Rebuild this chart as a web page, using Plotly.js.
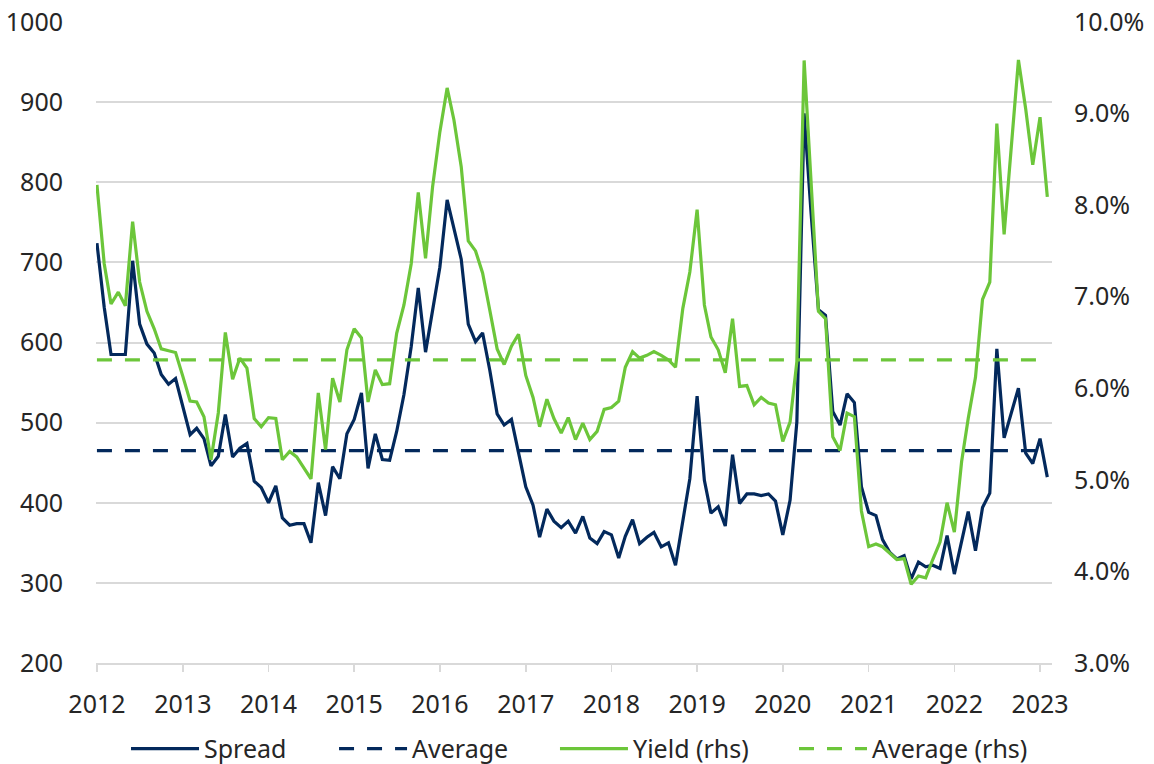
<!DOCTYPE html>
<html>
<head>
<meta charset="utf-8">
<script src="https://cdn.plot.ly/plotly-3.0.1.min.js"></script>
<style>
  html, body { margin: 0; padding: 0; background: #ffffff; }
  #chart { width: 1154px; height: 764px; }
</style>
</head>
<body>
<div id="chart"></div>
<script>
// Monthly observations starting January 2012
const startYear = 2012;
const spread = [724,644,585,585,585,702,623,598,587,560,
  548,555,521,485,493,480,446,458,510,457,
  468,474,427,419,400,421,381,372,374,374,
  350,425,384,445,430,486,504,537,443,486,
  454,453,489,535,595,668,588,642,694,778,
  741,704,623,601,612,565,511,497,504,464,
  420,397,357,392,377,369,377,362,383,356,
  349,364,360,331,358,379,349,357,363,345,
  350,322,378,430,533,428,387,395,371,460,
  399,411,411,409,411,402,360,403,501,886,
  760,641,634,514,497,536,525,420,388,384,
  354,338,330,334,305,326,320,322,318,359,
  311,354,389,340,394,412,592,481,512,543,
  462,449,480,432];
const yieldRhs = [8.22,7.36,6.92,7.05,6.90,7.82,7.16,6.84,6.65,6.43,
  6.41,6.39,6.13,5.86,5.85,5.69,5.22,5.73,6.61,6.10,
  6.33,6.22,5.67,5.58,5.68,5.67,5.22,5.31,5.25,5.13,
  5.01,5.95,5.33,6.11,5.85,6.42,6.65,6.55,5.85,6.20,
  6.04,6.05,6.60,6.91,7.36,8.14,7.42,8.20,8.80,9.28,
  8.93,8.42,7.61,7.50,7.26,6.85,6.43,6.26,6.46,6.59,
  6.14,5.90,5.58,5.88,5.67,5.51,5.68,5.44,5.62,5.44,
  5.53,5.77,5.79,5.86,6.23,6.40,6.33,6.36,6.40,6.36,
  6.31,6.23,6.87,7.27,7.95,6.91,6.56,6.42,6.17,6.76,
  6.02,6.03,5.82,5.90,5.84,5.82,5.42,5.63,6.29,9.58,
  8.20,6.84,6.76,5.47,5.32,5.73,5.69,4.66,4.27,4.30,
  4.27,4.20,4.13,4.14,3.86,3.95,3.93,4.13,4.32,4.75,
  4.43,5.20,5.67,6.12,6.97,7.16,8.89,7.68,8.63,9.585,
  9.05,8.44,8.96,8.09];
const avgSpread = 465;
const avgYield = 6.31;
const yearLabels = ['2012','2013','2014','2015','2016','2017','2018','2019','2020','2021','2022','2023'];
const seriesNames = ['Spread','Average','Yield (rhs)','Average (rhs)'];

const navy = '#03295c';
const green = '#6cc63a';

function monthDate(i) {
  const y = startYear + Math.floor(i / 12);
  const m = (i % 12) + 1;
  return y + '-' + (m < 10 ? '0' + m : m) + '-01';
}
const dates = spread.map((_, i) => monthDate(i));
const avgX = [dates[0], dates[dates.length - 1]];
const yearTicks = yearLabels.map(y => y + '-01-01');

const font = { family: 'Noto Sans, Open Sans, sans-serif', size: 25, color: '#262626' };

const traces = [
  { x: dates, y: spread, name: seriesNames[0], type: 'scatter', mode: 'lines',
    line: { color: navy, width: 3.2 }, yaxis: 'y', legend: 'legend' },
  { x: avgX, y: [avgSpread, avgSpread], name: seriesNames[1], type: 'scatter', mode: 'lines',
    line: { color: navy, width: 3.2, dash: '15px,13px' }, yaxis: 'y', legend: 'legend2' },
  { x: dates, y: yieldRhs, name: seriesNames[2], type: 'scatter', mode: 'lines',
    line: { color: green, width: 3.2 }, yaxis: 'y2', legend: 'legend3' },
  { x: avgX, y: [avgYield, avgYield], name: seriesNames[3], type: 'scatter', mode: 'lines',
    line: { color: green, width: 3.2, dash: '15px,13px' }, yaxis: 'y2', legend: 'legend4' }
];

function legendAt(xFrac) {
  return {
    orientation: 'h', x: xFrac, xanchor: 'left', y: -0.098, yanchor: 'top',
    font: font, itemwidth: 68, bgcolor: 'rgba(0,0,0,0)'
  };
}

const layout = {
  width: 1154, height: 764,
  margin: { l: 96, r: 102, t: 22, b: 101, autoexpand: false },
  paper_bgcolor: '#ffffff', plot_bgcolor: '#ffffff',
  font: font,
  showlegend: true,
  legend: legendAt(0.0314),
  legend2: legendAt(0.2490),
  legend3: legendAt(0.4801),
  legend4: legendAt(0.7301),
  xaxis: {
    type: 'date', automargin: false,
    range: ['2011-12-28', '2023-02-21'],
    tickvals: yearTicks, ticktext: yearLabels,
    showgrid: false, zeroline: false,
    showline: true, linecolor: '#d9d9d9', linewidth: 2,
    ticks: 'outside', ticklen: 7, tickcolor: '#d9d9d9', tickwidth: 1.5,
    ticklabelstandoff: 11,
    tickfont: font
  },
  yaxis: {
    range: [200, 1000], dtick: 100, tick0: 0, automargin: false,
    showgrid: true, gridcolor: '#d9d9d9', gridwidth: 2,
    zeroline: false, showline: false, ticks: '',
    ticklabelstandoff: 32,
    tickfont: font
  },
  yaxis2: {
    range: [3, 10], dtick: 1, tick0: 0, automargin: false,
    overlaying: 'y', side: 'right',
    showgrid: false, zeroline: false, showline: false, ticks: '',
    tickformat: '.1f', ticksuffix: '%',
    ticklabelstandoff: 21,
    tickfont: font
  }
};

Plotly.newPlot('chart', traces, layout, { displayModeBar: false, staticPlot: true });
</script>
</body>
</html>
